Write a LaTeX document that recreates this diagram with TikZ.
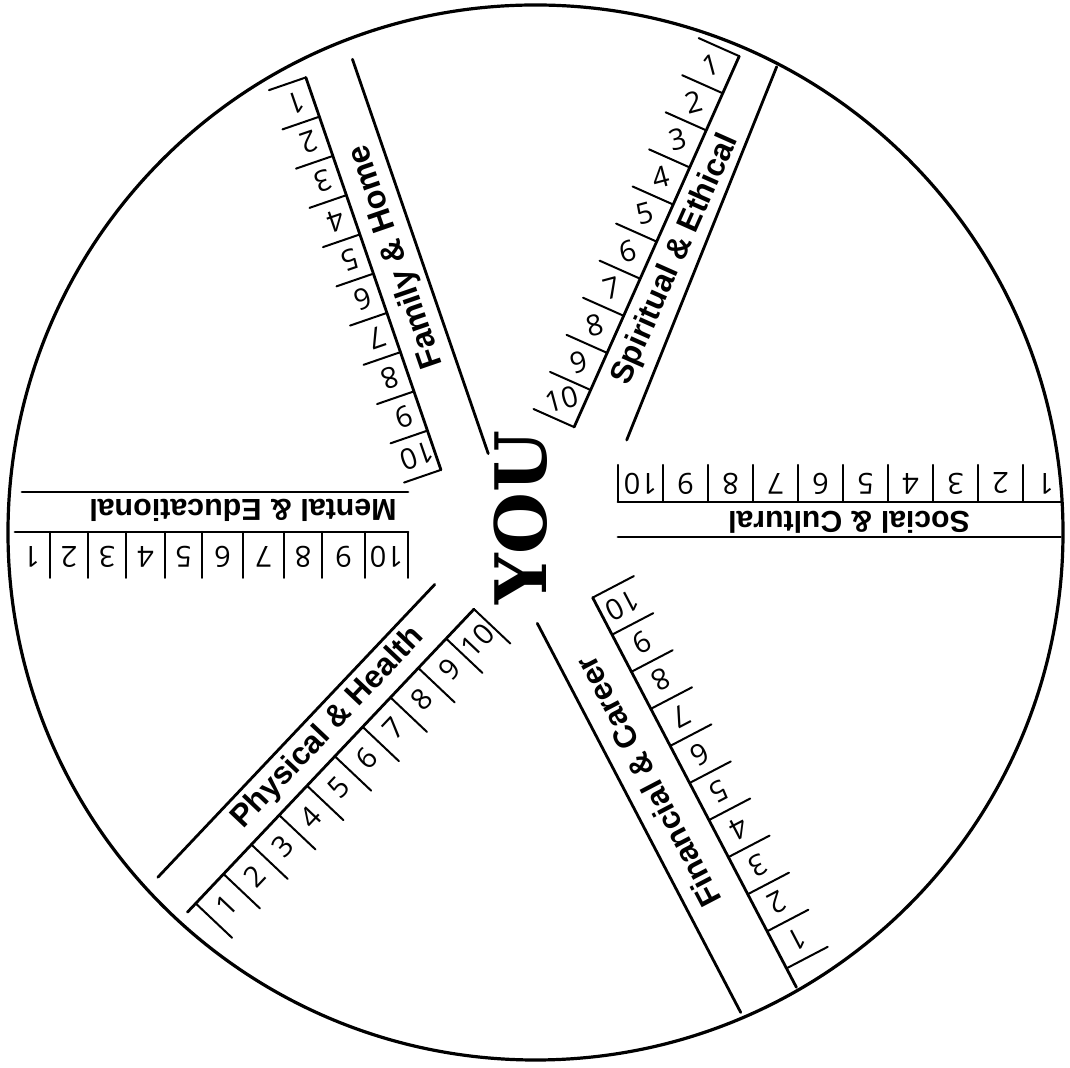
\documentclass[tikz,border=0pt]{standalone}
\usepackage{fontspec}
\setmainfont{Liberation Sans}
\newfontfamily\youfont{DejaVu Serif}
\newfontfamily\digfont{Open Sans}
\tikzset{
  rim/.style={line width=1.6pt},
  band/.style={line width=1.4pt, line cap=round},
  tickline/.style={line width=1pt, line cap=round},
  lab/.style={inner sep=0pt, font=\bfseries},
  dig/.style={inner sep=0pt, font=\digfont\fontsize{14.5}{14.5}\selectfont},
}
\begin{document}
\begin{tikzpicture}[x=0.5pt,y=0.5pt]
\useasboundingbox (-535.5,-535.5) rectangle (534.5,532.5);
\fill[white] (-535.5,-535.5) rectangle (534.5,532.5);
\draw[rim] (0,0) circle (527.5);

% centre
\node[rotate=90, inner sep=0pt, font=\youfont\bfseries\fontsize{35.5}{35.5}\selectfont] (you) at (-14.7,15) {YOU};

% Social & Cultural (theta = 0)
\begin{scope}
\draw[band] (82.5,30.5) -- (525,30.5);
\draw[band] (82.5,-4.5) -- (525,-4.5);
\foreach \k in {0,...,9} \draw[tickline] (82.5+45*\k,30.5) -- (82.5+45*\k,67.5);
\foreach \i in {0,...,9} {
  \pgfmathtruncatemacro\d{10-\i}
  \node[dig, rotate=180] (sc\i) at (82.5+45*\i+22.5,49) {\d};
}
\node[lab, rotate=180, font=\bfseries\fontsize{15.1}{15.1}\selectfont] (social) at (313.5,10.5) {Social \& Cultural};
\end{scope}

% Mental & Educational (theta = 180)
\begin{scope}[rotate=180]
\draw[band] (127.5,-40.5) -- (513.5,-40.5);
\draw[band] (127.5,-0.5) -- (520.5,-0.5);
\foreach \u in {127.5,170.5,213.5,251.5,292.5,333.5,370.5,409.5,447.5,485.5}
  \draw[tickline] (\u,-0.5) -- (\u,45.5);
\foreach \u/\d [count=\i] in {149/10,192/9,232.5/8,272/7,313/6,352/5,390/4,428.5/3,466.5/2,504/1}
  \node[dig, rotate=180] (me\i) at (\u,24.5) {\d};
\node[lab, rotate=180, font=\bfseries\fontsize{15.2}{15.2}\selectfont] (mental) at (292.5,-22.5) {Mental \& Educational};
\end{scope}

% Family & Home (theta = 109)
\begin{scope}[rotate=109]
\draw[band] (90,19) -- (507,19);
\draw[band] (90,69) -- (505,69);
\foreach \k in {0,...,10} \draw[tickline] (90+41.5*\k,69) -- (90+41.5*\k,108);
\foreach \i in {0,...,9} {
  \pgfmathtruncatemacro\d{10-\i}
  \node[dig, rotate=199] (fh\i) at (90+41.5*\i+20.75,87) {\d};
}
\node[lab, rotate=109, font=\bfseries\fontsize{16.2}{16.2}\selectfont] (family) at (306,41.4) {Family \& Home};
\end{scope}

% Spiritual & Ethical (theta = 66)
\begin{scope}[rotate=66]
\draw[band] (121.6,-45.7) -- (523.6,-30.9);
\draw[band] (112,7.6) -- (518,7.6);
\foreach \k in {0,...,10} \draw[tickline] (112+40.6*\k,7.6) -- (112+40.6*\k,52);
\foreach \i in {0,...,9} {
  \pgfmathtruncatemacro\d{10-\i}
  \node[dig, rotate=15] (se\i) at (112+40.6*\i+20.3,30) {\d};
}
\node[lab, rotate=66, font=\bfseries\fontsize{15.8}{15.8}\selectfont] (spiritual) at (306.3,-17) {Spiritual \& Ethical};
\end{scope}

% Financial & Career (theta = -62.4)
\begin{scope}[rotate=-62.4]
\draw[band] (81.4,-40.5) -- (520.5,-40.5);
\draw[band] (84.2,20.5) -- (524,20.5);
\foreach \k in {0,...,10} \draw[tickline] (84.2+41.84*\k,20.5) -- (84.2+41.84*\k,67);
\foreach \i in {0,...,9} {
  \pgfmathtruncatemacro\d{10-\i}
  \node[dig, rotate=-152.4] (fc\i) at (84.2+41.84*\i+20.92,43) {\d};
}
\node[lab, rotate=117.6, font=\bfseries\fontsize{15.85}{15.85}\selectfont] (financial) at (273.1,-15.5) {Financial \& Career};
\end{scope}

% Physical & Health (theta = -133.4)
\begin{scope}[rotate=-133.4]
\draw[band] (107,-37.5) -- (510,-37.5);
\draw[band] (98,8) -- (515,8);
\foreach \k in {0,...,10} \draw[tickline] (98+40.5*\k,8) -- (98+40.5*\k,58);
\foreach \i in {0,...,9} {
  \pgfmathtruncatemacro\d{10-\i}
  \node[dig, rotate=46.6] (ph\i) at (98+40.5*\i+20.25,32) {\d};
}
\node[lab, rotate=46.6, font=\bfseries\fontsize{15.75}{15.75}\selectfont] (physical) at (284.6,-16) {Physical \& Health};
\end{scope}
\end{tikzpicture}
\end{document}
